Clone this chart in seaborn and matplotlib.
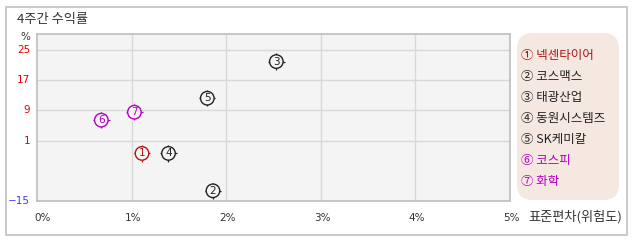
import matplotlib
matplotlib.use("Agg")
import matplotlib.pyplot as plt
from matplotlib.patches import Rectangle, FancyBboxPatch
import seaborn as sns
import pandas as pd

# ---- data ----
labels = ["①", "②", "③", "④", "⑤", "⑥", "⑦"]
numbers = ["1", "2", "3", "4", "5", "6", "7"]
names = ["넥센타이어", "코스맥스", "태광산업", "동원시스템즈", "SK케미칼", "코스피", "화학"]
risk = [1.11, 1.86, 2.53, 1.39, 1.80, 0.68, 1.03]      # 표준편차 (%)
ret = [-2.4, -12.3, 21.9, -2.4, 12.2, 6.4, 8.5]        # 4주간 수익률 (%)
colors = ["#b01515", "#222222", "#222222", "#222222", "#222222", "#b000c0", "#b000c0"]
yticks = [-15, 1, 9, 17, 25]
ytick_colors = ["#3a3aff", "#ee0000", "#ee0000", "#ee0000", "#ee0000"]
xticks = [0, 1, 2, 3, 4, 5]
xtick_labels = ["0%", "1%", "2%", "3%", "4%", "5%"]

df = pd.DataFrame({"label": labels, "num": numbers, "name": names,
                   "risk": risk, "ret": ret, "color": colors})

sns.set_style("white")
plt.rcParams["font.family"] = ["Noto Sans CJK KR", "DejaVu Sans"]

W, H = 638, 242
fig = plt.figure(figsize=(W / 100, H / 100), dpi=100)

# outer frame
fig.patches.append(Rectangle((6 / W, 1 - 235 / H), 621 / W, 228 / H,
                             transform=fig.transFigure, fill=False,
                             edgecolor="#c0c0c0", linewidth=1.2))

L, R, T, B = 37, 510, 34, 201
ax = fig.add_axes([L / W, 1 - B / H, (R - L) / W, (B - T) / H])
ax.set_facecolor("#f4f4f4")
ax.set_xlim(0, 4.98)
ax.set_ylim(-15, 29.2)

for x in xticks[1:-1]:
    ax.axvline(x, color="#d8d8d8", lw=1, zorder=0)
for y in yticks[1:]:
    ax.axhline(y, color="#d8d8d8", lw=1, zorder=0)

pal = dict(zip(labels, colors))
# markers: tick cross, circle, number
sns.scatterplot(data=df, x="risk", y="ret", hue="label", palette=pal,
                marker="+", s=140, linewidth=0.9, legend=False, ax=ax, zorder=3)
sns.scatterplot(data=df, x="risk", y="ret", hue="label", palette=pal,
                marker="o", s=95, linewidth=1.0, legend=False, ax=ax, zorder=4)
ax.collections[-1].set_facecolor("#f4f4f4")
ax.collections[-1].set_edgecolor(colors)
for _, r in df.iterrows():
    ax.text(r["risk"], r["ret"], r["num"], color=r["color"], fontsize=7.5,
            ha="center", va="center", zorder=5, family=["DejaVu Sans"])

ax.set_xticks(xticks)
ax.set_xticklabels([])
ax.set_yticks(yticks)
ax.set_yticklabels([])
ax.tick_params(length=0)
ax.set_xlabel("")
ax.set_ylabel("")
for s in ax.spines.values():
    s.set_color("#bdbdbd")
    s.set_linewidth(1.2)

for yv, c in zip(yticks, ytick_colors):
    ax.annotate(str(yv) if yv >= 0 else "\u2212" + str(-yv), (0, yv),
                xycoords=("axes fraction", "data"),
                xytext=(-5, 0), textcoords="offset points", ha="right", va="center",
                color=c, fontsize=7.5, family=["DejaVu Sans"])
for xv, lab in zip(xticks, xtick_labels):
    ax.annotate(lab, (xv, 0), xycoords=("data", "axes fraction"),
                xytext=(4 if xv == 0 else 1, -12), textcoords="offset points",
                ha="center", va="center", color="#333333", fontsize=7.5,
                family=["DejaVu Sans"])

fig.text(17 / W, 1 - 20 / H, "4주간 수익률", fontsize=9.5, color="#333333",
         ha="left", va="center")
fig.text(25 / W, 1 - 37 / H, "%", fontsize=7.5, color="#333333", ha="center",
         va="center", family=["DejaVu Sans"])
fig.text(575 / W, 1 - 217 / H, "표준편차(위험도)", fontsize=9.5, color="#333333",
         ha="center", va="center")

# legend box
fig.patches.append(FancyBboxPatch((517 / W, 1 - 200 / H), 102 / W, 167 / H,
                                  boxstyle="round,pad=0,rounding_size=0.025",
                                  transform=fig.transFigure, facecolor="#f5e8e1",
                                  edgecolor="none", mutation_aspect=W / H))
for i, (lab, nm, c) in enumerate(zip(labels, names, colors)):
    fig.text(521 / W, 1 - (55 + i * 21.1) / H, f"{lab} {nm}", fontsize=9,
             color=c, ha="left", va="center")

fig.savefig("out.png", dpi=100)
